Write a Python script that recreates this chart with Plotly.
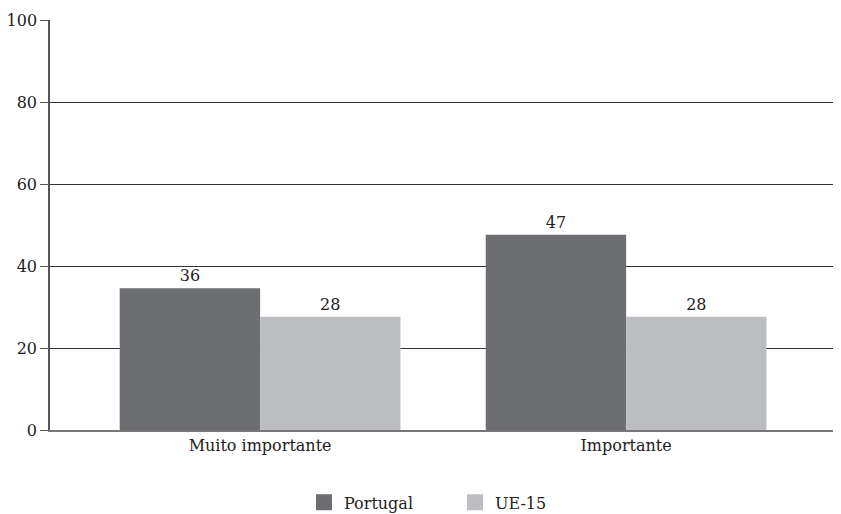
import plotly.graph_objects as go

categories = ["Muito importante", "Importante"]
portugal_values = [34.6, 47.6]
portugal_labels = ["36", "47"]
ue15_values = [27.6, 27.6]
ue15_labels = ["28", "28"]
y_ticks = [0, 20, 40, 60, 80, 100]

FONT = "DejaVu Serif"
FS = 16
C_PT = "#6d6e71"
C_UE = "#bcbdc0"

fig = go.Figure()
for name, vals, labels, color in [("Portugal", portugal_values, portugal_labels, C_PT),
                                  ("UE-15", ue15_values, ue15_labels, C_UE)]:
    fig.add_trace(go.Bar(
        name=name, x=categories, y=vals, legendgroup=name, showlegend=False,
        text=labels, textposition="outside",
        marker=dict(color=color, line=dict(width=0)),
        textfont=dict(family=FONT, size=FS, color="#222"),
        cliponaxis=False,
    ))
for name, color in [("Portugal", C_PT), ("UE-15", C_UE)]:
    fig.add_trace(go.Scatter(
        name=name, x=[None], y=[None], mode="markers", legendgroup=name,
        marker=dict(symbol="square", size=21, color=color),
    ))

fig.update_layout(
    width=833, height=506,
    margin=dict(l=42, r=0, t=12, b=84, autoexpand=False),
    paper_bgcolor="white", plot_bgcolor="white",
    barmode="group", bargap=0.233, bargroupgap=0,
    font=dict(family=FONT, size=FS, color="#222"),
    showlegend=True,
    legend=dict(orientation="h", x=0.512, xanchor="center", y=-0.135, yanchor="top",
                font=dict(family=FONT, size=FS, color="#222"),
                entrywidth=106, entrywidthmode="pixels", traceorder="normal"),
    xaxis=dict(range=[-0.574, 1.587], showgrid=False, showline=True, automargin=False,
               linecolor="#777", linewidth=1.5, ticks="", tickfont=dict(size=FS)),
    yaxis=dict(range=[0, 100], tickvals=y_ticks, showgrid=True, automargin=False,
               gridcolor="#333", gridwidth=1, showline=True, linecolor="#555",
               linewidth=1.5, ticks="outside", ticklen=8, tickcolor="#555",
               zeroline=False, tickfont=dict(size=FS)),
)

fig.write_html("out.html")
